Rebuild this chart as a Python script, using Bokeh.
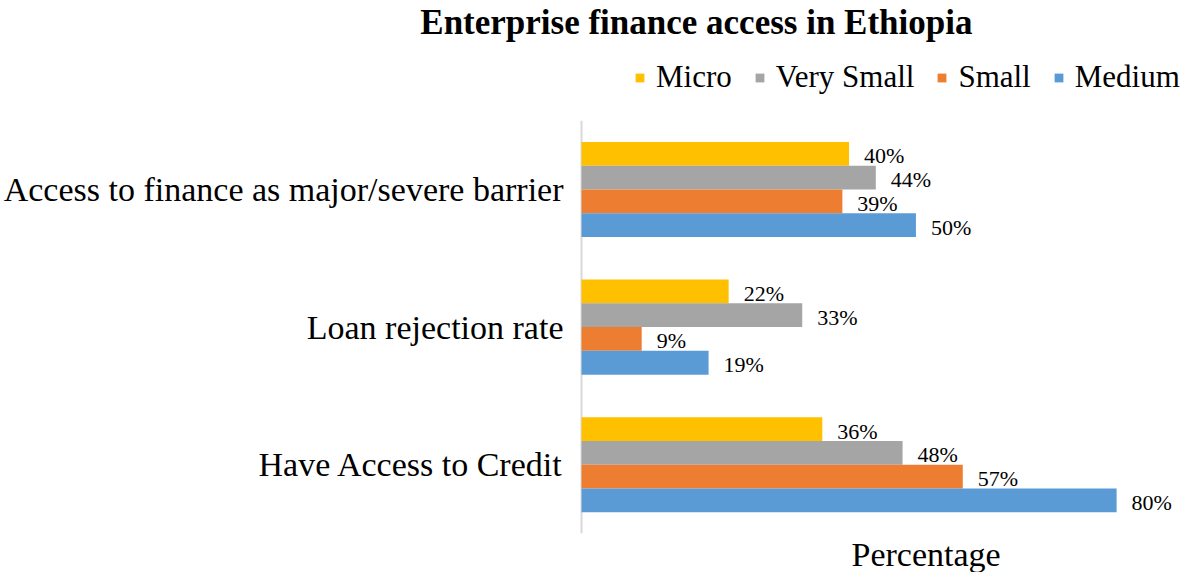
from bokeh.plotting import figure
from bokeh.models import (ColumnDataSource, Range1d, Legend, LegendItem, Title, FixedTicker)
from bokeh.transform import dodge
from bokeh.core.properties import value
from bokeh.embed import file_html
from bokeh.resources import INLINE

categories = ["Access to finance as major/severe barrier", "Loan rejection rate", "Have Access to Credit"]
series = ["Micro", "Very Small", "Small", "Medium"]
micro = [40, 22, 36]
very_small = [44, 33, 48]
small = [39, 9, 57]
medium = [50, 19, 80]
colors = ["#FFC000", "#A5A5A5", "#ED7D31", "#5B9BD5"]

FONT = "Liberation Serif"
keys = ["micro", "very_small", "small", "medium"]
n = len(categories)
ypos = [n - 1 - i for i in range(n)]
data = dict(cat=categories, y=ypos, micro=micro, very_small=very_small, small=small, medium=medium)
for k in keys:
    data[k + "_lbl"] = [f"{v}%" for v in data[k]]
src = ColumnDataSource(data)

W, H = 1180, 572
LEFT, BOTTOM, TOP = 578, 35, 40
px_x = 6.7      # pixels per percent
px_y = 139.0    # pixels per category band
x0 = -0.3
x1 = x0 + (W - LEFT) / px_x
y0 = -0.5
y1 = y0 + (H - BOTTOM - TOP) / px_y

p = figure(width=W, height=H,
           x_range=Range1d(x0, x1), y_range=Range1d(y0, y1),
           output_backend="svg", toolbar_location=None,
           min_border_left=LEFT, min_border_top=TOP, min_border_bottom=BOTTOM, min_border_right=0)

p.title.text = "Enterprise finance access in Ethiopia"
p.title.align = "right"
p.title.offset = 208
p.title.standoff = 0
p.title.text_font = FONT
p.title.text_font_size = "35px"
p.title.text_font_style = "bold"
p.title.text_color = "#000000"

# vertical axis line along the category bands
p.segment(x0=[0], y0=[-0.5], x1=[0], y1=[n - 0.5], line_color="#D9D9D9", line_width=2)

bh = 0.1727
offsets = [1.5 * bh, 0.5 * bh, -0.5 * bh, -1.5 * bh]
items = []
for k, name, c, off in zip(keys, series, colors, offsets):
    r = p.hbar(y=dodge("y", off), right=k, left=0, height=bh,
               source=src, fill_color=c, line_color=None)
    p.text(x=k, y=dodge("y", off), text=k + "_lbl", source=src,
           x_offset=15, y_offset=2, text_baseline="middle", text_align="left",
           text_font=value(FONT), text_font_size="22px", text_color="#000000")
    items.append(LegendItem(label=name, renderers=[r]))

legend = Legend(items=items, orientation="horizontal", location=(55, 438),
                label_text_font=FONT, label_text_font_size="31px", label_text_color="#000000",
                glyph_width=11, glyph_height=11, label_standoff=11, spacing=22,
                padding=0, margin=0, border_line_color=None, background_fill_alpha=0)
p.add_layout(legend, "center")

p.xaxis.visible = False
p.yaxis.ticker = FixedTicker(ticks=ypos)
p.yaxis.major_label_overrides = {yv: c for yv, c in zip(ypos, categories)}
p.yaxis.axis_line_color = None
p.yaxis.major_tick_line_color = None
p.yaxis.minor_tick_line_color = None
p.yaxis.major_tick_out = 0
p.yaxis.major_tick_in = 0
p.yaxis.major_label_text_font = FONT
p.yaxis.major_label_text_font_size = "34px"
p.yaxis.major_label_text_color = "#000000"
p.yaxis.major_label_standoff = 16
p.xgrid.visible = False
p.ygrid.visible = False
p.outline_line_color = None

p.add_layout(Title(text="Percentage", align="left", offset=272,
                   text_font=FONT, text_font_size="34px", text_font_style="normal",
                   text_color="#000000", standoff=0), "below")

open("out.html", "w").write(file_html(p, INLINE))
